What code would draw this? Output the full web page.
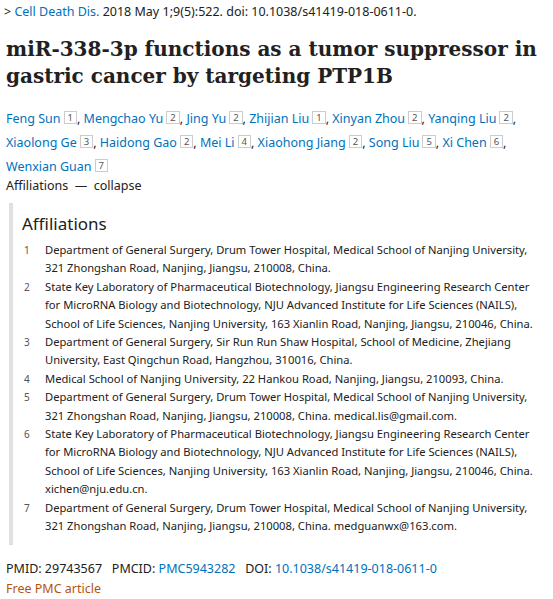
<!DOCTYPE html>
<html><head><meta charset="utf-8">
<script src="https://cdn.jsdelivr.net/npm/chart.js"></script>
<style>
body{margin:0;width:553px;height:599px;background:#fff;font-family:"Noto Sans",sans-serif;color:#212121;overflow:hidden;position:relative}
.a{color:#0071bc}
.abs{position:absolute;white-space:nowrap}
.top{left:4px;top:3px;font-size:12.5px}
.title{left:6px;top:36px;font-family:"DejaVu Serif",serif;font-weight:bold;font-size:20px;line-height:27px;color:#212121}
.auth{left:6px;top:107px;font-size:12.5px;line-height:24px}
.auth span.n{display:inline-block;border:1px solid #ccc;font-size:9.5px;line-height:11px;padding:0 3px;margin-left:3px;vertical-align:2px;color:#555}
.affl{left:6px;top:177px;font-size:12.5px}
.box{position:absolute;left:9px;top:203px;width:540px;height:342px;border-left:4px solid #e0e0e0}
.h{left:22px;top:212px;font-size:17px}
.list{left:24px;top:241px;font-size:11.2px;line-height:18.4px;margin:0;padding:0;list-style:none}
.list li{position:relative;padding-left:21px}
.list li b{position:absolute;left:0;font-weight:normal;color:#555;font-size:10px}
.foot{left:6px;top:560px;font-size:12.5px}
.free{left:6px;top:580px;font-size:12.5px;color:#b5540d}
</style></head><body>
<div class="abs top">&gt; <span class="a">Cell Death Dis.</span> 2018 May 1;9(5):522. doi: 10.1038/s41419-018-0611-0.</div>
<div class="abs title">miR-338-3p functions as a tumor suppressor in<br>gastric cancer by targeting PTP1B</div>
<div class="abs auth">
<span class="a">Feng Sun</span><span class="n">1</span>, <span class="a">Mengchao Yu</span><span class="n">2</span>, <span class="a">Jing Yu</span><span class="n">2</span>, <span class="a">Zhijian Liu</span><span class="n">1</span>, <span class="a">Xinyan Zhou</span><span class="n">2</span>, <span class="a">Yanqing Liu</span><span class="n">2</span>,<br>
<span class="a">Xiaolong Ge</span><span class="n">3</span>, <span class="a">Haidong Gao</span><span class="n">2</span>, <span class="a">Mei Li</span><span class="n">4</span>, <span class="a">Xiaohong Jiang</span><span class="n">2</span>, <span class="a">Song Liu</span><span class="n">5</span>, <span class="a">Xi Chen</span><span class="n">6</span>,<br>
<span class="a">Wenxian Guan</span><span class="n">7</span></div>
<div class="abs affl">Affiliations &nbsp;— &nbsp;collapse</div>
<div class="box"></div>
<div class="abs h">Affiliations</div>
<ul class="abs list">
<li><b>1</b>Department of General Surgery, Drum Tower Hospital, Medical School of Nanjing University,<br>321 Zhongshan Road, Nanjing, Jiangsu, 210008, China.</li>
<li><b>2</b>State Key Laboratory of Pharmaceutical Biotechnology, Jiangsu Engineering Research Center<br>for MicroRNA Biology and Biotechnology, NJU Advanced Institute for Life Sciences (NAILS),<br>School of Life Sciences, Nanjing University, 163 Xianlin Road, Nanjing, Jiangsu, 210046, China.</li>
<li><b>3</b>Department of General Surgery, Sir Run Run Shaw Hospital, School of Medicine, Zhejiang<br>University, East Qingchun Road, Hangzhou, 310016, China.</li>
<li><b>4</b>Medical School of Nanjing University, 22 Hankou Road, Nanjing, Jiangsu, 210093, China.</li>
<li><b>5</b>Department of General Surgery, Drum Tower Hospital, Medical School of Nanjing University,<br>321 Zhongshan Road, Nanjing, Jiangsu, 210008, China. medical.lis@gmail.com.</li>
<li><b>6</b>State Key Laboratory of Pharmaceutical Biotechnology, Jiangsu Engineering Research Center<br>for MicroRNA Biology and Biotechnology, NJU Advanced Institute for Life Sciences (NAILS),<br>School of Life Sciences, Nanjing University, 163 Xianlin Road, Nanjing, Jiangsu, 210046, China.<br>xichen@nju.edu.cn.</li>
<li><b>7</b>Department of General Surgery, Drum Tower Hospital, Medical School of Nanjing University,<br>321 Zhongshan Road, Nanjing, Jiangsu, 210008, China. medguanwx@163.com.</li>
</ul>
<div class="abs foot">PMID: 29743567 &nbsp;&nbsp;PMCID: <span class="a">PMC5943282</span> &nbsp;&nbsp;DOI: <span class="a">10.1038/s41419-018-0611-0</span></div>
<div class="abs free">Free PMC article</div>
</body></html>
